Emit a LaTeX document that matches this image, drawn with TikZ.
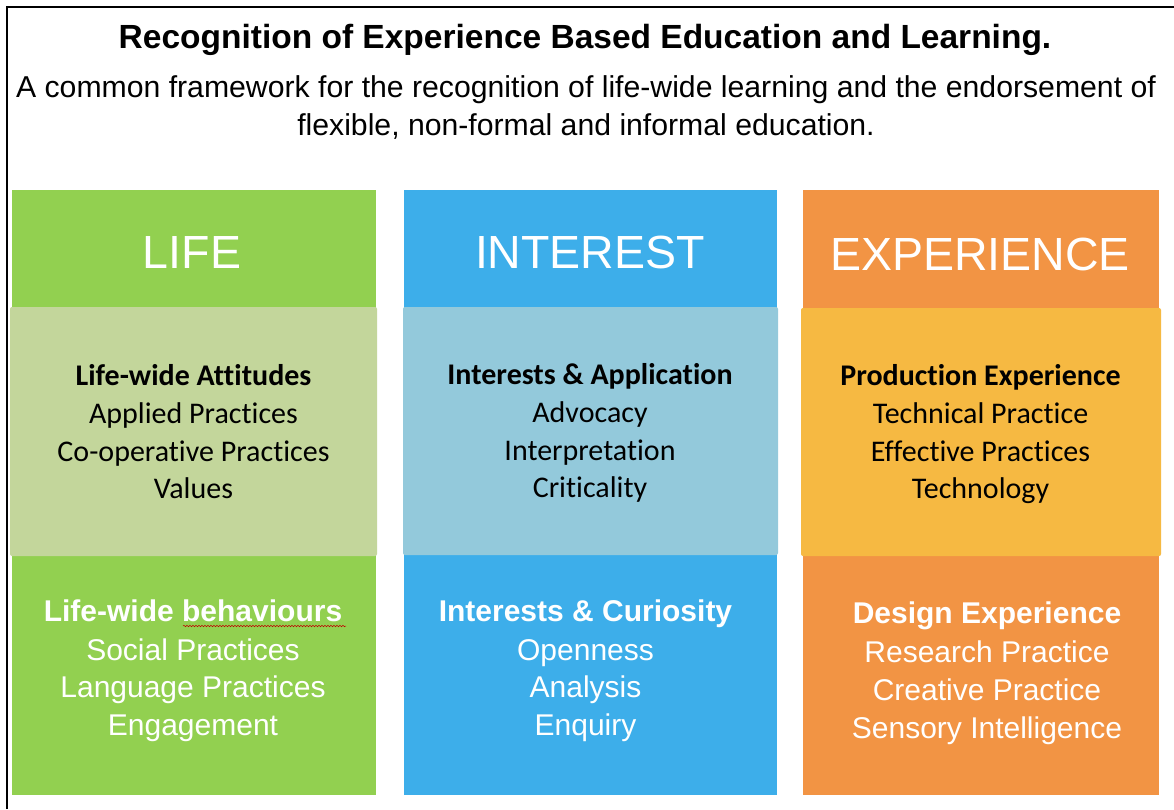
\documentclass[tikz,border=0pt]{standalone}
\usepackage{fontspec}
\setmainfont{Liberation Sans}
\newfontfamily\calib[Ligatures=NoCommon]{Carlito}
\usetikzlibrary{decorations.pathmorphing}

\definecolor{lifegreen}{HTML}{92D050}
\definecolor{lifepale}{HTML}{C3D69B}
\definecolor{intblue}{HTML}{3DAEEA}
\definecolor{intpale}{HTML}{93C9DB}
\definecolor{expor}{HTML}{F29444}
\definecolor{exppale}{HTML}{F6B942}

\tikzset{
  txt/.style={anchor=base, inner sep=0pt, outer sep=0pt},
  title/.style={txt, font=\fontsize{33.5}{40}\selectfont\bfseries},
  subtitle/.style={txt, font=\fontsize{30.2}{36}\selectfont},
  head/.style={txt, text=white, font=\fontsize{46.5}{56}\selectfont},
  midhead/.style={txt, font=\calib\fontsize{30}{36}\selectfont\bfseries},
  midline/.style={txt, font=\calib\fontsize{30}{36}\selectfont},
  lowhead/.style={txt, text=white, font=\fontsize{30}{36}\selectfont\bfseries},
  lowline/.style={txt, text=white, font=\fontsize{30}{36}\selectfont},
  band/.style={rounded corners=2pt},
  squiggle/.style={red!75!black, line width=0.5pt, decorate,
    decoration={snake, amplitude=0.7pt, segment length=3pt}},
}

\begin{document}
\begin{tikzpicture}[x=1pt, y=-1pt]
\useasboundingbox (0,0) rectangle (1174,809);
\fill[white] (0,0) rectangle (1174,809);

% outer frame (open to the right and bottom)
\draw[line width=2pt] (7,809) -- (7,7) -- (1174,7);

% heading
\node[title] (t1) at (585,48) {Recognition of Experience Based Education and Learning.};
\node[subtitle] (t2) at (586,97) {A common framework for the recognition of life-wide learning and the endorsement of};
\node[subtitle] (t3) at (586,135) {flexible, non-formal and informal education.};

% columns
\fill[lifegreen] (12,190) rectangle (376,795);
\fill[intblue]   (404,190) rectangle (777,795);
\fill[expor]     (803,190) rectangle (1159,795);

% middle bands
\fill[lifepale, band] (10,307) rectangle (377,556);
\fill[intpale, band]  (403,307) rectangle (778,555);
\fill[exppale, band]  (801,308) rectangle (1161,556);

% column headings
\node[head] (hl) at (192,268) {LIFE};
\node[head] (hi) at (590,268) {INTEREST};
\node[head] (he) at (980,270) {EXPERIENCE};

% LIFE column
\node[midhead] (l1) at (193.5,385) {Life-wide Attitudes};
\node[midline] (l2) at (193.5,423) {Applied Practices};
\node[midline] (l3) at (193.5,461) {Co-operative Practices};
\node[midline] (l4) at (193.5,498) {Values};
\node[lowhead] (l5) at (193,621) {Life-wide behaviours};
\node[lowline] (l6) at (193,660) {Social Practices};
\node[lowline] (l7) at (193,697) {Language Practices};
\node[lowline] (l8) at (193,735) {Engagement};
\draw[squiggle] (183,626) -- (346,626);

% INTEREST column
\node[midhead] (i1) at (590,384) {Interests \& Application};
\node[midline] (i2) at (590,422) {Advocacy};
\node[midline] (i3) at (590,460) {Interpretation};
\node[midline] (i4) at (590,497) {Criticality};
\node[lowhead] (i5) at (585.5,621) {Interests \& Curiosity};
\node[lowline] (i6) at (585.5,660) {Openness};
\node[lowline] (i7) at (585.5,697) {Analysis};
\node[lowline] (i8) at (585.5,735) {Enquiry};

% EXPERIENCE column
\node[midhead] (e1) at (980.5,385) {Production Experience};
\node[midline] (e2) at (980.5,423) {Technical Practice};
\node[midline] (e3) at (980.5,461) {Effective Practices};
\node[midline] (e4) at (980.5,498) {Technology};
\node[lowhead] (e5) at (987,623) {Design Experience};
\node[lowline] (e6) at (987,662) {Research Practice};
\node[lowline] (e7) at (987,700) {Creative Practice};
\node[lowline] (e8) at (987,738) {Sensory Intelligence};
\end{tikzpicture}
\end{document}
